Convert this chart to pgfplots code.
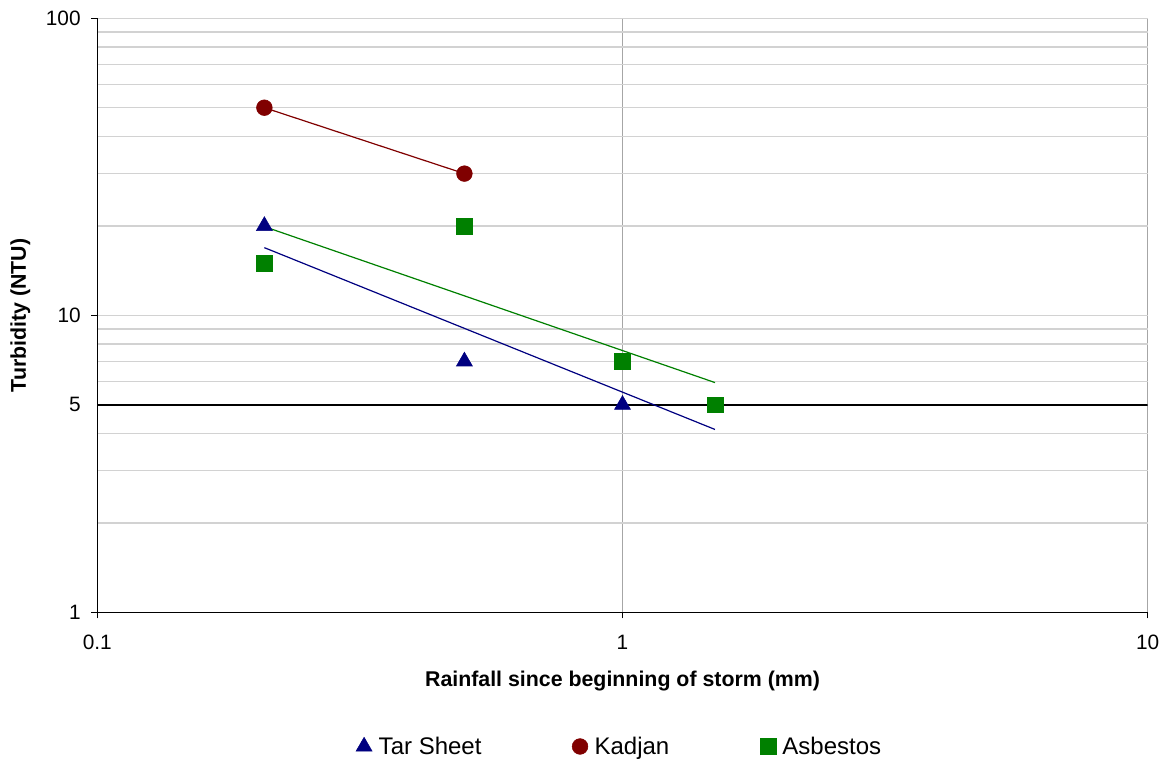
\documentclass[border=0pt]{standalone}
\usepackage{pgfplots}
\pgfplotsset{compat=1.18}
\usepackage{fontspec}
\setmainfont{Liberation Sans}
\definecolor{tarc}{RGB}{0,0,128}
\definecolor{kadc}{RGB}{128,0,0}
\definecolor{asbc}{RGB}{0,128,0}
\begin{document}
\begin{tikzpicture}
\begin{axis}[
  scale only axis, width=787.5pt, height=445.5pt,
  xmode=log, ymode=log,
  xmin=0.1, xmax=10, ymin=1, ymax=100,
  xtick={0.1,1,10}, xticklabels={0.1,1,10},
  ytick={1,10,100}, yticklabels={1,10,100},
  extra y ticks={5}, extra y tick labels={5},
  extra y tick style={grid=none, tick style={draw=none}},
  axis x line*=bottom, axis y line*=left,
  axis line style={-, black, line width=0.8pt},
  tick align=outside, major tick length=4.5pt, minor tick length=0pt,
  tick style={black, line width=0.8pt},
  xmajorgrids, ymajorgrids, yminorgrids,
  x grid style={gray!70, line width=0.75pt},
  y grid style={gray!35, line width=1pt},
  /pgf/number format/assume math mode=true,
  tick label style={font=\fontsize{15.6}{18}\selectfont},
  xticklabel style={yshift=-9pt},
  yticklabel style={xshift=-4.5pt},
  label style={font=\fontsize{16}{19}\selectfont\bfseries},
  xlabel={Rainfall since beginning of storm (mm)},
  ylabel={Turbidity (NTU)},
  xlabel style={at={(axis description cs:0.5,-0.116)}, anchor=center},
  ylabel style={at={(axis description cs:-0.0733,0.5)}, anchor=center},
  legend style={draw=none, at={(0.4976,-0.2256)}, anchor=center,
    font=\fontsize{18}{21}\selectfont},
  legend columns=3,
  legend cell align=left,
  /tikz/every odd column/.append style={column sep=3pt},
  /tikz/every even column/.append style={column sep=66pt},
]
\coordinate (ll) at (rel axis cs:0,0);
\coordinate (ur) at (rel axis cs:1,1);
\addplot[black, line width=1.5pt, forget plot] coordinates {(0.1,5) (10,5)};
\addplot[only marks, mark=triangle*, mark size=6.9pt, color=tarc, fill=tarc]
  coordinates {(0.208,20) (0.5,7) (1,5)};
\addlegendentry{Tar Sheet}
\addplot[only marks, mark=*, mark size=5.9pt, color=kadc, fill=kadc]
  coordinates {(0.208,50) (0.5,30)};
\addlegendentry{Kadjan}
\addplot[only marks, mark=square*, mark size=5.9pt, color=asbc, fill=asbc]
  coordinates {(0.208,15) (0.5,20) (1,7) (1.5,5)};
\addlegendentry{Asbestos}
\addplot[kadc, line width=0.9pt, forget plot] coordinates {(0.208,50) (0.5,30)};
\addplot[tarc, line width=0.9pt, forget plot] coordinates {(0.208,16.9) (1.5,4.13)};
\addplot[asbc, line width=0.9pt, forget plot] coordinates {(0.208,19.9) (1.5,5.94)};
\end{axis}
\pgfresetboundingbox
\path (ll) ++(-73pt,-111.2pt) rectangle ([shift={(16pt,13.7pt)}]ur);
\end{tikzpicture}
\end{document}
